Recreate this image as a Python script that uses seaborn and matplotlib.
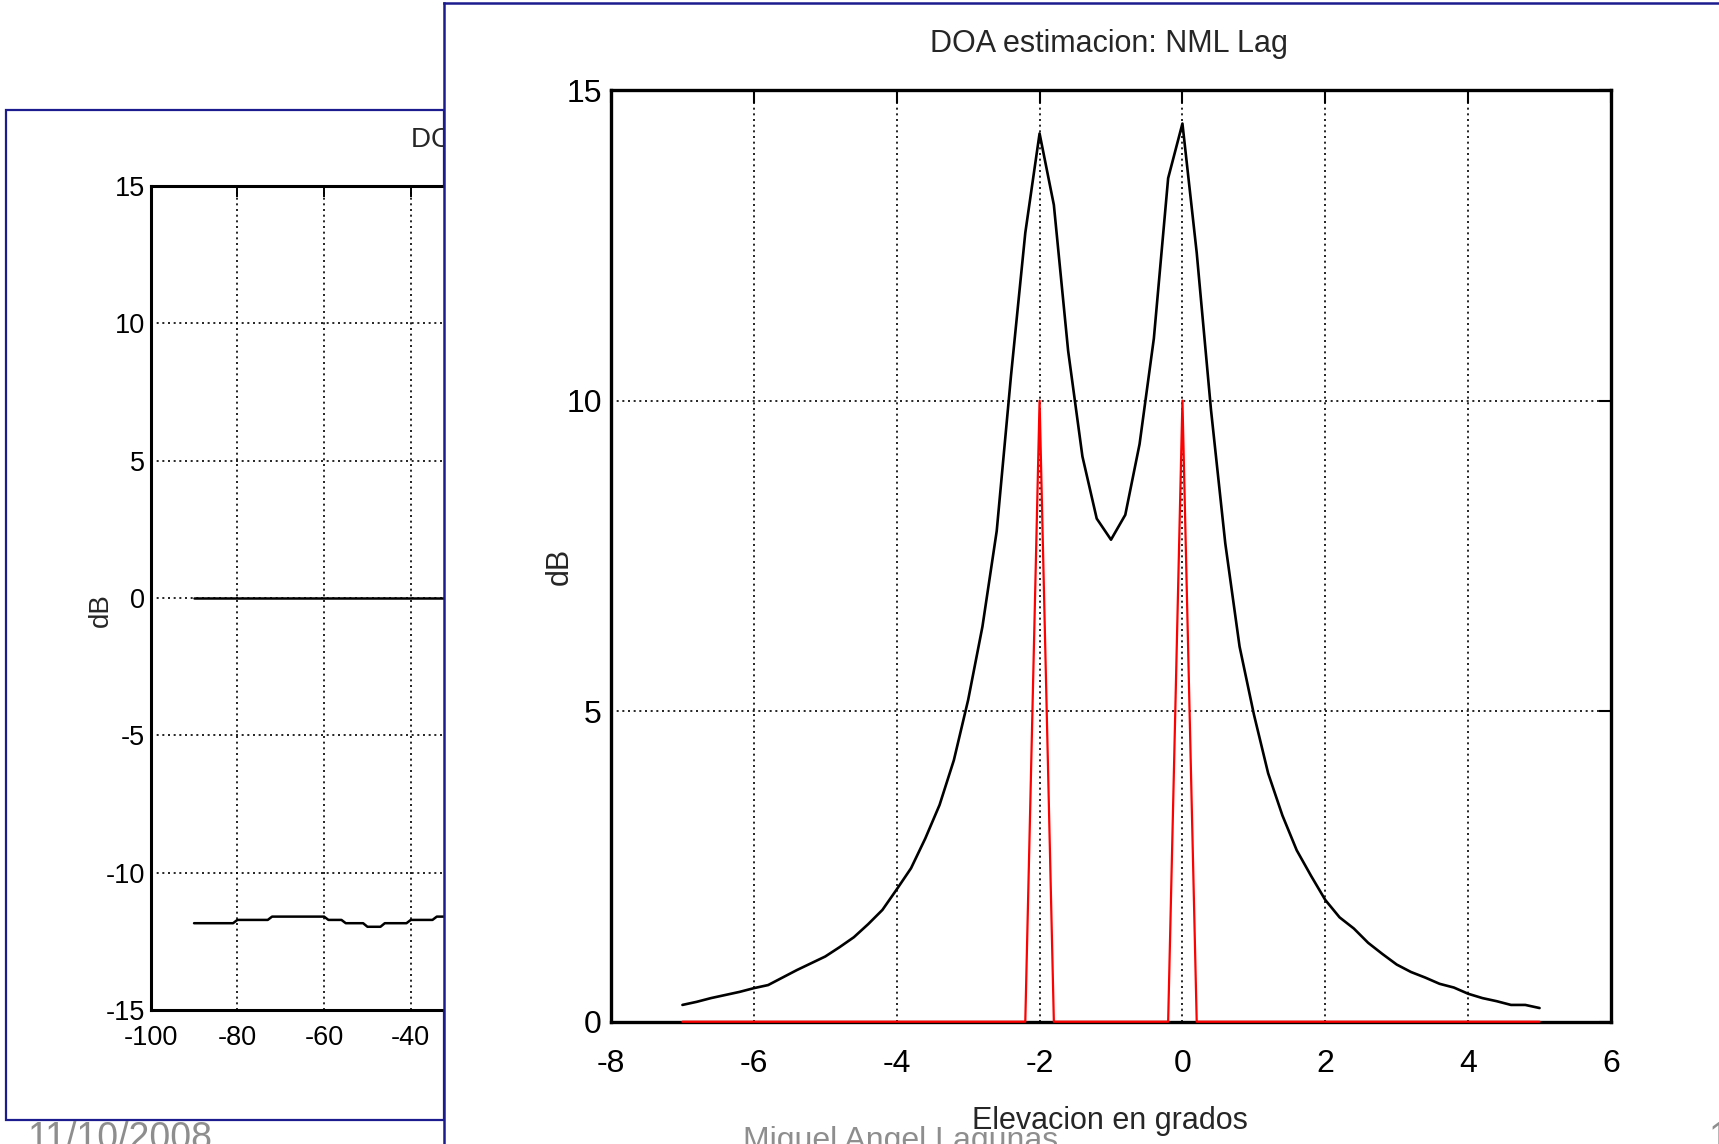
import numpy as np
import pandas as pd
import matplotlib
matplotlib.use("Agg")
import matplotlib.pyplot as plt
from matplotlib.patches import Rectangle
import seaborn as sns

# ---------------- data ----------------
# main chart: DOA estimacion NML Lag (elevation grid in degrees)
elev = [-7.0, -6.8, -6.6, -6.4, -6.2, -6.0, -5.8, -5.6, -5.4, -5.2,
        -5.0, -4.8, -4.6, -4.4, -4.2, -4.0, -3.8, -3.6, -3.4, -3.2,
        -3.0, -2.8, -2.6, -2.4, -2.2, -2.0, -1.8, -1.6, -1.4, -1.2,
        -1.0, -0.8, -0.6, -0.4, -0.2, 0.0, 0.2, 0.4, 0.6, 0.8,
        1.0, 1.2, 1.4, 1.6, 1.8, 2.0, 2.2, 2.4, 2.6, 2.8,
        3.0, 3.2, 3.4, 3.6, 3.8, 4.0, 4.2, 4.4, 4.6, 4.8, 5.0]
nml_db = [0.27, 0.32, 0.38, 0.43, 0.48, 0.54, 0.59, 0.71, 0.83, 0.94,
          1.05, 1.20, 1.36, 1.57, 1.80, 2.13, 2.47, 2.95, 3.49, 4.21,
          5.18, 6.36, 7.90, 10.40, 12.70, 14.30, 13.15, 10.80, 9.10, 8.10,
          7.76, 8.16, 9.30, 11.00, 13.58, 14.46, 12.38, 9.85, 7.70, 6.04,
          4.95, 4.00, 3.32, 2.76, 2.35, 1.96, 1.68, 1.50, 1.27, 1.09,
          0.92, 0.80, 0.71, 0.61, 0.55, 0.45, 0.38, 0.33, 0.27, 0.27, 0.22]
true_db = [0]*25 + [10] + [0]*9 + [10] + [0]*25

main_xticks = [-8, -6, -4, -2, 0, 2, 4, 6]
main_yticks = [0, 5, 10, 15]

# background chart (partly hidden behind the front window)
back_x0 = [-90, -30]
back_y0 = [0, 0]
back_x1 = [-90, -81, -80, -73, -72, -60, -59, -56, -55, -51, -50, -47, -46,
           -41, -40, -35, -34, -30]
back_y1 = [-11.84, -11.84, -11.72, -11.72, -11.60, -11.60, -11.72, -11.72,
           -11.84, -11.84, -11.97, -11.97, -11.84, -11.84, -11.72, -11.72,
           -11.60, -11.60]
back_xticks = [-100, -80, -60, -40]          # only the visible ones
back_yticks = [-15, -10, -5, 0, 5, 10, 15]

title_main = "DOA estimacion: NML Lag"
title_back = "DOA estimacion: NML"
xlabel_main = "Elevacion en grados"
ylabel = "dB"
footer_date = "11/10/2008"
footer_author = "Miguel Angel Lagunas"
footer_page = "15"

# ---------------- style ----------------
sns.set_style("white")
FAM = ["Liberation Sans Narrow", "Liberation Sans", "DejaVu Sans"]
plt.rcParams["font.family"] = FAM
plt.rcParams["axes.unicode_minus"] = False

W, H = 1719, 1144
fig = plt.figure(figsize=(W / 100, H / 100), dpi=100)
fig.patch.set_facecolor("white")


def fx(px):
    return px / W


def fy(py):
    return 1 - py / H


BLUE = "#1c1c8f"
GRID = dict(color="black", linestyle=(0, (1.2, 2.2)), linewidth=1.2)

# left (background) figure frame
fig.add_artist(Rectangle((fx(5.5), fy(1120)), fx(444) - fx(5.5), fy(109.6) - fy(1120),
                         transform=fig.transFigure, fill=False, edgecolor=BLUE,
                         linewidth=1.6, zorder=0.5))

# ---------------- background axes ----------------
ax1 = fig.add_axes([fx(150.7), fy(1010), (1017.7 - 150.7) / W, (1010 - 186) / H], zorder=1)
df0 = pd.DataFrame({"x": back_x0, "y": back_y0})
df1 = pd.DataFrame({"x": back_x1, "y": back_y1})
sns.lineplot(data=df0, x="x", y="y", ax=ax1, color="black", linewidth=1.8,
             estimator=None, sort=False)
sns.lineplot(data=df1, x="x", y="y", ax=ax1, color="black", linewidth=1.8,
             estimator=None, sort=False)
ax1.set_xlim(-100, 100)
ax1.set_ylim(-15, 15)
ax1.set_xticks(back_xticks)
ax1.set_yticks(back_yticks)
ax1.grid(True, **GRID)
ax1.tick_params(direction="in", length=8, width=1.4, top=True, right=True,
                labelsize=19.5, colors="black")
ax1.tick_params(axis="x", pad=11)
ax1.tick_params(axis="y", pad=4)
for s in ax1.spines.values():
    s.set_linewidth(2.2)
    s.set_color("black")
ax1.set_xlabel("")
ax1.set_ylabel(ylabel, fontsize=20)
ax1.yaxis.set_label_coords(-0.043, 0.485)
ax1.text(0.30, 1.056, title_back, transform=ax1.transAxes, ha="left", va="center",
         fontsize=20)

# ---------------- foreground panel ----------------
panel = fig.add_axes([fx(444), 0, 1 - fx(444), fy(3.3)], zorder=2)
panel.set_facecolor("white")
panel.set_xticks([])
panel.set_yticks([])
panel.spines["right"].set_visible(False)
panel.spines["bottom"].set_visible(False)
for k in ("left", "top"):
    panel.spines[k].set_color(BLUE)
    panel.spines[k].set_linewidth(1.8)

# ---------------- main axes ----------------
ax2 = fig.add_axes([fx(611), fy(1021.7), 1000 / W, 931.7 / H], zorder=3)
dfm = pd.DataFrame({"elev": elev, "nml": nml_db, "true": true_db})
sns.lineplot(data=dfm, x="elev", y="nml", ax=ax2, color="black", linewidth=1.9,
             estimator=None, sort=False, clip_on=False, zorder=3)
sns.lineplot(data=dfm, x="elev", y="true", ax=ax2, color="#ff0000", linewidth=1.6,
             estimator=None, sort=False, clip_on=False, zorder=4)
ax2.set_xlim(-8, 6)
ax2.set_ylim(0, 15)
ax2.set_xticks(main_xticks)
ax2.set_yticks(main_yticks)
ax2.grid(True, **GRID)
ax2.tick_params(direction="in", length=9, width=1.5, top=True, right=True,
                labelsize=23, colors="black")
ax2.tick_params(axis="x", pad=20)
ax2.tick_params(axis="y", pad=6.5)
for s in ax2.spines.values():
    s.set_linewidth(2.4)
    s.set_color("black")
    s.set_zorder(2.5)
ax2.set_xlabel(xlabel_main, fontsize=22)
ax2.xaxis.set_label_coords(0.499, -0.091)
ax2.set_ylabel(ylabel, fontsize=22)
ax2.yaxis.set_label_coords(-0.036, 0.489)
ax2.text(0.498, 1.0405, title_main, transform=ax2.transAxes, ha="center",
         va="baseline", fontsize=22)

# ---------------- slide footer ----------------
GRAY = "#8e8e8e"
fig.text(fx(27), fy(1121), footer_date, ha="left", va="top", fontsize=27,
         color=GRAY, zorder=5)
fig.text(fx(743), fy(1126), footer_author, ha="left", va="top", fontsize=23,
         color=GRAY, zorder=5)
fig.text(fx(1708), fy(1121), footer_page, ha="left", va="top", fontsize=27,
         color=GRAY, zorder=5)

fig.savefig("out.png", dpi=100)
